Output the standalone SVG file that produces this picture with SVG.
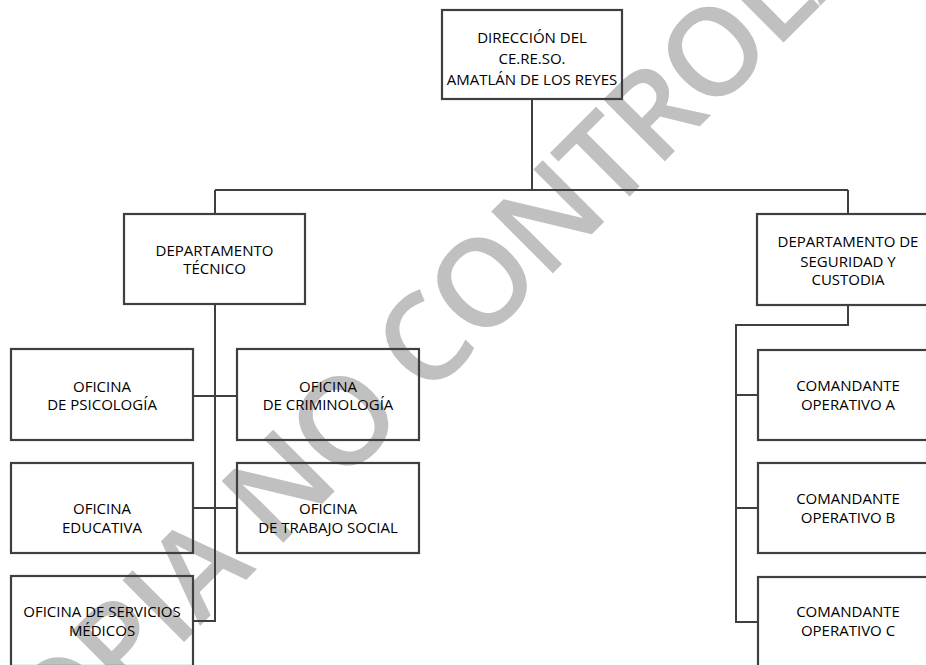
<svg xmlns="http://www.w3.org/2000/svg" width="926" height="665" viewBox="0 0 926 665">
<style>
.box{fill:none;stroke:#3f3f3f;stroke-width:2.2}
.ln{fill:none;stroke:#3f3f3f;stroke-width:2}
.t{font-family:"Open Sans","Liberation Sans",sans-serif;font-size:15px;fill:#000;text-anchor:middle}
.wm{font-family:"Open Sans","Liberation Sans",sans-serif;font-size:122px;font-weight:600;fill:#c0c0c0;text-anchor:middle}
</style>
<rect width="926" height="665" fill="#fff"/>
<text class="wm" x="500" y="326" transform="rotate(-45 500 326)" textLength="1395" lengthAdjust="spacing">COPIA NO CONTROLADA</text>
<g id="connectors">
<path class="ln" d="M532,99 V190 M215,190 H848 M215,190 V214 M848,190 V214"/>
<path class="ln" d="M215,304 V621 H193 M193,396 H237 M193,508 H237"/>
<path class="ln" d="M848,305 V325 H736 V622 H758 M736,395 H758 M736,508 H758"/>
</g>
<g id="direccion">
<rect class="box" x="442" y="10" width="180" height="89"/>
<text class="t" x="532" y="43">DIRECCIÓN DEL</text>
<text class="t" x="532" y="64">CE.RE.SO.</text>
<text class="t" x="532" y="85">AMATLÁN DE LOS REYES</text>
</g>
<g id="dep-tecnico">
<rect class="box" x="124" y="214" width="181" height="90"/>
<text class="t" x="214.5" y="256">DEPARTAMENTO</text>
<text class="t" x="214.5" y="274">TÉCNICO</text>
</g>
<g id="dep-seguridad">
<rect class="box" x="757" y="214" width="182" height="91"/>
<text class="t" x="848" y="247">DEPARTAMENTO DE</text>
<text class="t" x="848" y="267">SEGURIDAD Y</text>
<text class="t" x="848" y="285">CUSTODIA</text>
</g>
<g id="psicologia">
<rect class="box" x="11" y="349" width="182" height="91"/>
<text class="t" x="102" y="391.5">OFICINA</text>
<text class="t" x="102" y="410">DE PSICOLOGÍA</text>
</g>
<g id="criminologia">
<rect class="box" x="237" y="349" width="182" height="91"/>
<text class="t" x="328" y="391.5">OFICINA</text>
<text class="t" x="328" y="410">DE CRIMINOLOGÍA</text>
</g>
<g id="educativa">
<rect class="box" x="11" y="463" width="182" height="90"/>
<text class="t" x="102" y="514">OFICINA</text>
<text class="t" x="102" y="533">EDUCATIVA</text>
</g>
<g id="trabajo-social">
<rect class="box" x="237" y="463" width="182" height="90"/>
<text class="t" x="328" y="514">OFICINA</text>
<text class="t" x="328" y="533">DE TRABAJO SOCIAL</text>
</g>
<g id="servicios-medicos">
<rect class="box" x="11" y="576" width="182" height="90"/>
<text class="t" x="102" y="617">OFICINA DE SERVICIOS</text>
<text class="t" x="102" y="636">MÉDICOS</text>
</g>
<g id="comandante-a">
<rect class="box" x="758" y="350" width="181" height="90"/>
<text class="t" x="848" y="391">COMANDANTE</text>
<text class="t" x="848" y="410">OPERATIVO A</text>
</g>
<g id="comandante-b">
<rect class="box" x="758" y="463" width="181" height="90"/>
<text class="t" x="848" y="504">COMANDANTE</text>
<text class="t" x="848" y="523">OPERATIVO B</text>
</g>
<g id="comandante-c">
<rect class="box" x="758" y="577" width="181" height="90"/>
<text class="t" x="848" y="617">COMANDANTE</text>
<text class="t" x="848" y="636">OPERATIVO C</text>
</g>
</svg>
